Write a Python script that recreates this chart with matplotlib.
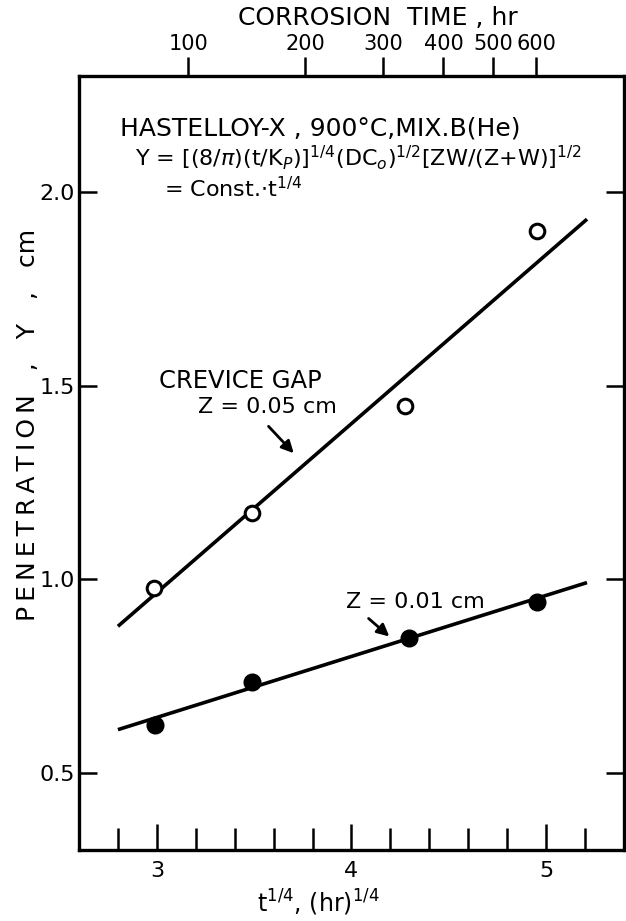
import numpy as np
import matplotlib.pyplot as plt

# t^(1/4) in hr^(1/4), penetration Y in cm
x_gap05 = [2.985, 3.49, 4.277, 4.954]
y_gap05 = [0.976, 1.17, 1.446, 1.899]
x_gap01 = [2.99, 3.49, 4.297, 4.954]
y_gap01 = [0.624, 0.735, 0.849, 0.942]

# fitted straight lines, end points
fit_x = [2.80, 5.21]
fit_gap05 = [0.878, 1.93]
fit_gap01 = [0.611, 0.991]

hours = [100, 200, 300, 400, 500, 600]   # top scale, corrosion time

fig = plt.figure(figsize=(6.26, 9.21), dpi=100)
ax = fig.add_axes([79/626, 71/921, 545/626, 774/921])

ax.plot(fit_x, fit_gap05, color='k', lw=2.6, solid_capstyle='butt')
ax.plot(fit_x, fit_gap01, color='k', lw=2.6, solid_capstyle='butt')
ax.plot(x_gap05, y_gap05, 'o', ms=10.5, mfc='white', mec='k', mew=2.2)
ax.plot(x_gap01, y_gap01, 'o', ms=12, mfc='k', mec='k')

ax.set_xlim(2.6, 5.4)
ax.set_ylim(0.3, 2.3)

ax.set_xticks([3, 4, 5])
ax.set_xticklabels(['3', '4', '5'])
ax.set_xticks(np.arange(2.8, 5.21, 0.2), minor=True)
ax.set_yticks([0.5, 1.0, 1.5, 2.0])
ax.set_yticklabels(['0.5', '1.0', '1.5', '2.0'])
ax.set_yticks(np.arange(0.6, 2.25, 0.1), minor=True)

ax.tick_params(which='both', direction='in', top=True, right=True, width=1.8)
ax.tick_params(axis='x', which='major', length=19, pad=8, labelsize=16)
ax.tick_params(axis='x', which='minor', length=16)
ax.tick_params(axis='y', which='both', length=13, pad=3, labelsize=16)
for s in ax.spines.values():
    s.set_linewidth(2.4)

# top axis: corrosion time in hr
ax2 = ax.twiny()
ax2.set_xlim(ax.get_xlim())
ax2.set_xticks(np.array(hours) ** 0.25)
ax2.set_xticklabels([str(h) for h in hours])
ax2.tick_params(axis='x', direction='out', length=14, width=1.8, pad=2, labelsize=15)
ax2.minorticks_off()
for s in ax2.spines.values():
    s.set_visible(False)

fig.text(378/626, 1 - 18/921, 'CORROSION  TIME , hr', fontsize=18,
         ha='center', va='center')
fig.text(318/626, 1 - 903/921, r't$^{1/4}$, (hr)$^{1/4}$', fontsize=17,
         ha='center', va='center')
ylab = '\u2009'.join('PENETRATION') + '   ,   Y   ,   cm'
fig.text(28/626, 1 - 425/921, ylab, fontsize=18, rotation=90,
         ha='center', va='center')

ax.text(2.81, 2.165, 'HASTELLOY-X , 900°C,MIX.B(He)', fontsize=18, va='center')
ax.text(2.89, 2.088,
        r'Y = [(8/$\pi$)(t/K$_P$)]$^{1/4}$(DC$_o$)$^{1/2}$[ZW/(Z+W)]$^{1/2}$',
        fontsize=16, va='center')
ax.text(3.036, 2.008, r'= Const.$\cdot$t$^{1/4}$', fontsize=16, va='center')

ax.text(3.01, 1.511, 'CREVICE GAP', fontsize=17.5, va='center')
ax.text(3.21, 1.444, 'Z = 0.05 cm', fontsize=16, va='center')
ax.annotate('', xy=(3.713, 1.320), xytext=(3.564, 1.40),
            arrowprops=dict(arrowstyle='-|>', color='k', lw=2, mutation_scale=18))

ax.text(3.974, 0.942, 'Z = 0.01 cm', fontsize=16, va='center')
ax.annotate('', xy=(4.205, 0.847), xytext=(4.077, 0.903),
            arrowprops=dict(arrowstyle='-|>', color='k', lw=2, mutation_scale=18))

fig.savefig('out.png', dpi=100)
